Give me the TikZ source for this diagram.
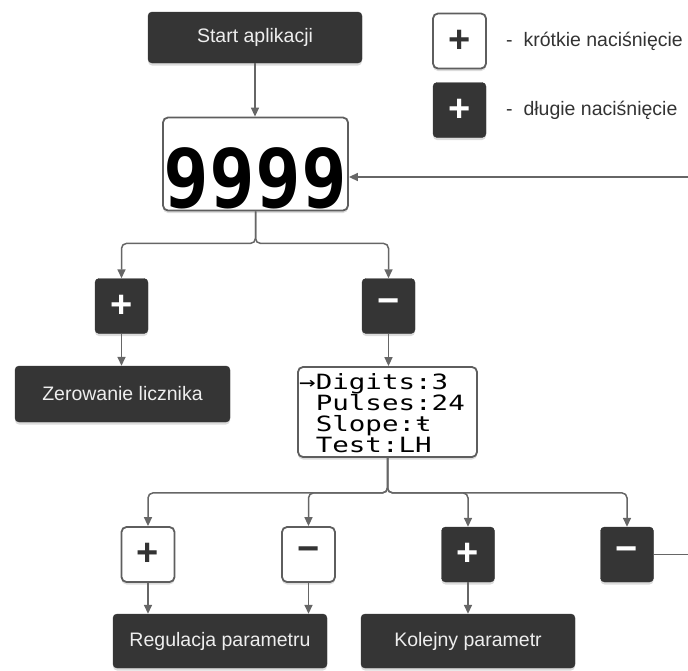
\documentclass[tikz,border=0pt]{standalone}
\usepackage{fontspec}
\setmainfont{Liberation Sans}
\newfontfamily\lcdfont{DejaVu Sans Mono}
\usetikzlibrary{arrows.meta,shadows}
\definecolor{boxdark}{HTML}{353535}
\definecolor{linegray}{HTML}{666666}
\definecolor{bordergray}{HTML}{5E5E5E}
\definecolor{txtlight}{HTML}{EEEEEE}
\definecolor{txtdark}{HTML}{333333}
\begin{document}
\begin{tikzpicture}[x=1pt,y=-1pt,
  boxshadow/.style={drop shadow={opacity=0.28,shadow xshift=0pt,shadow yshift=-2.5pt}},
  darkbox/.style={fill=boxdark,draw=boxdark,rounded corners=4pt,inner sep=0pt,
    text=txtlight,font=\fontsize{19.5}{22}\selectfont,boxshadow},
  whitebox/.style={fill=white,draw=bordergray,line width=1.8pt,rounded corners=5pt,inner sep=0pt,boxshadow},
  btn/.style={minimum width=53pt,minimum height=55pt,font=\bfseries\fontsize{38}{38}\selectfont},
  darkbtn/.style={darkbox,btn,text=white},
  whitebtn/.style={whitebox,btn,text=txtdark},
  legtext/.style={inner sep=0pt,text=txtdark,font=\fontsize{19.5}{22}\selectfont},
  lcdline/.style={inner sep=0pt,anchor=base west,text=black,font=\lcdfont\fontsize{21}{21}\selectfont},
  conn/.style={draw=linegray,line width=1.5pt},
  arr/.style={conn,-{Triangle[length=9pt,width=8pt]},rounded corners=5pt}
]
\useasboundingbox (0,0) rectangle (688,670);

% legend
\node[whitebtn] (leg1) at (459.5,41) {+};
\node[darkbtn] (leg2) at (459.5,110) {+};
\node[legtext,anchor=west] (leg1t) at (506,41) {-\ \ krótkie naciśnięcie};
\node[legtext,anchor=west] (leg2t) at (506,110) {-\ \ długie naciśnięcie};

% main nodes
\node[darkbox,minimum width=214pt,minimum height=51pt] (start) at (255,37.5) {Start aplikacji};
\node[whitebox,minimum width=185pt,minimum height=93pt] (disp) at (255.5,164) {};
\node[inner sep=0pt,anchor=base,text=black,font=\lcdfont\bfseries\fontsize{74}{74}\selectfont] (dispnum) at (255.5,207) {\scalebox{1.03}[1.1]{9999}};

\node[darkbtn] (p1) at (121.5,306) {+};
\node[darkbtn] (m1) at (388.5,306) {−};

\node[darkbox,minimum width=215pt,minimum height=56pt] (zero) at (122.5,394) {Zerowanie licznika};
\node[whitebox,minimum width=179pt,minimum height=90pt] (menu) at (387.5,412) {};
\node[lcdline] (ml1) at (299,389) {\scalebox{1.31}[1]{→Digits:3}};
\node[lcdline] (ml2) at (299,410) {\scalebox{1.31}[1]{\hphantom{→}Pulses:24}};
\node[lcdline] (ml3) at (299,431) {\scalebox{1.31}[1]{\hphantom{→}Slope:ŧ}};
\node[lcdline] (ml4) at (299,452) {\scalebox{1.31}[1]{\hphantom{→}Test:LH}};

\node[whitebtn] (bp1) at (148,554.5) {+};
\node[whitebtn] (bm1) at (308.5,554.5) {−};
\node[darkbtn] (bp2) at (468,554.5) {+};
\node[darkbtn] (bm2) at (627,554.5) {−};

\node[darkbox,minimum width=214pt,minimum height=54pt] (reg) at (220,641) {Regulacja parametru};
\node[darkbox,minimum width=214pt,minimum height=54pt] (kol) at (468,641) {Kolejny parametr};

\coordinate (r1) at (688,177);
\coordinate (r2) at (688,554.5);

% connectors
\draw[arr] (start.south) -- (start.south |- disp.north);
\draw[arr] (disp.south) -- ++(0,32) -| (p1.north);
\draw[arr] (disp.south) -- ++(0,32) -| (m1.north);
\draw[arr] (p1.south) -- (p1.south |- zero.north);
\draw[arr] (m1.south) -- (m1.south |- menu.north);
\draw[arr] (menu.south) -- ++(0,35) -| (bp1.north);
\draw[arr] (menu.south) -- ++(0,35) -| (bm1.north);
\draw[arr] (menu.south) -- ++(0,35) -| (bp2.north);
\draw[arr] (menu.south) -- ++(0,35) -| (bm2.north);
\draw[arr] (bp1.south) -- (bp1.south |- reg.north);
\draw[arr] (bm1.south) -- (bm1.south |- reg.north);
\draw[arr] (bp2.south) -- (bp2.south |- kol.north);
\draw[conn] (bm2.east) -- (r2);
\draw[arr] (r1) -- (r1 -| disp.east);
\end{tikzpicture}
\end{document}
